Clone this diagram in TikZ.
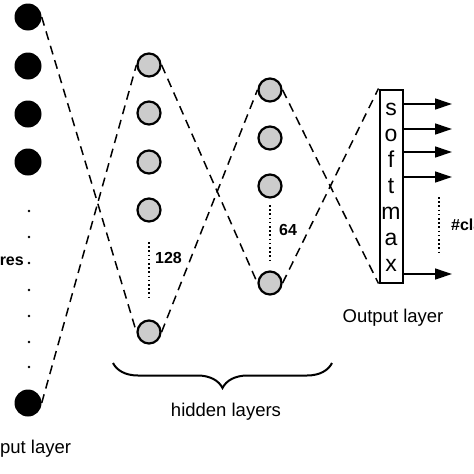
\documentclass[tikz,border=0pt]{standalone}
\usepackage{fontspec}
\setmainfont{Liberation Sans}
\usetikzlibrary{arrows.meta,decorations.pathreplacing}
\begin{document}
\begin{tikzpicture}[x=1pt,y=-1pt,
 inneuron/.style={circle,fill=black,minimum size=27pt,inner sep=0pt},
 hidneuron/.style={circle,fill=black!20,draw=black,line width=2.2pt,minimum size=23pt,inner sep=0pt},
 conn/.style={dash pattern=on 9pt off 6pt,line width=1.5pt},
 vdots/.style={dash pattern=on 1.6pt off 2.6pt,line width=1.7pt},
 num/.style={font=\fontsize{16}{16}\selectfont\bfseries,inner sep=0pt},
 lbl/.style={font=\fontsize{18.5}{20}\selectfont,inner sep=0pt},
 smx/.style={font=\fontsize{23}{23}\selectfont,anchor=base,inner sep=0pt},
 outarrow/.style={-{Triangle[length=17pt,width=11pt]},line width=1.3pt}
]
\clip (0,0) rectangle (474,474);
% input layer
\node[inneuron] (i1) at (28,17) {};
\node[inneuron] (i2) at (28,66) {};
\node[inneuron] (i3) at (28,114) {};
\node[inneuron] (i4) at (28,162) {};
\node[inneuron] (i5) at (28,403) {};
\foreach \y in {211,237,263,290,316,342,367} \fill (29,\y) circle (1.3pt);
\node[num,anchor=base east] (feat) at (24,265) {features};
\node[lbl,anchor=base west] (inl) at (-15.5,453) {Input layer};
% hidden layer 1
\node[hidneuron] (h1a) at (149,65) {};
\node[hidneuron] (h1b) at (149,113) {};
\node[hidneuron] (h1c) at (149,162) {};
\node[hidneuron] (h1d) at (149,210) {};
\node[hidneuron] (h1e) at (149,332) {};
\coordinate (d1a) at (149,242);
\coordinate (d1b) at (149,300);
\draw[vdots] (d1a) -- (d1b);
\node[num,anchor=west] (n128) at (155,258) {128};
% hidden layer 2
\node[hidneuron] (h2a) at (270,90) {};
\node[hidneuron] (h2b) at (270,138) {};
\node[hidneuron] (h2c) at (270,186) {};
\node[hidneuron] (h2d) at (270,283) {};
\coordinate (d2a) at (270,205);
\coordinate (d2b) at (270,262);
\draw[vdots] (d2a) -- (d2b);
\node[num,anchor=west] (n64) at (279,230) {64};
% softmax
\node[draw,line width=2pt,minimum width=23pt,minimum height=193pt,inner sep=0pt] (sm) at (391,186) {};
\node[smx] (s1) at (391,115) {s};
\node[smx] (s2) at (391,141) {o};
\node[smx] (s3) at (391,167) {f};
\node[smx] (s4) at (391,193) {t};
\node[smx] (s5) at (391,219) {m};
\node[smx] (s6) at (391,245) {a};
\node[smx] (s7) at (391,271) {x};
\foreach \y [count=\k] in {104,129,152,177,274} {
  \coordinate (o\k) at (452,\y);
  \draw[outarrow] (sm.east |- o\k) -- (o\k);
}
\coordinate (d3a) at (439,197);
\coordinate (d3b) at (439,253);
\draw[vdots] (d3a) -- (d3b);
\node[num,anchor=west] (ncl) at (451,225) {\#classes};
\node[lbl,anchor=base] (outl) at (393,322) {Output layer};
% connections
\draw[conn] (i1.east) -- (h1e.west);
\draw[conn] (i5.east) -- (h1a.west);
\draw[conn] (h1a.east) -- (h2d.west);
\draw[conn] (h1e.east) -- (h2a.west);
\draw[conn] (h2a.east) -- (sm.south west);
\draw[conn] (h2d.east) -- (sm.north west);
% brace
\coordinate (b1) at (113,363);
\coordinate (b2) at (332,363);
\draw[decorate,decoration={brace,mirror,amplitude=25pt},line width=2pt] (b1) -- (b2);
\node[lbl,anchor=base] (hid) at (226,416) {hidden layers};
\end{tikzpicture}
\end{document}
